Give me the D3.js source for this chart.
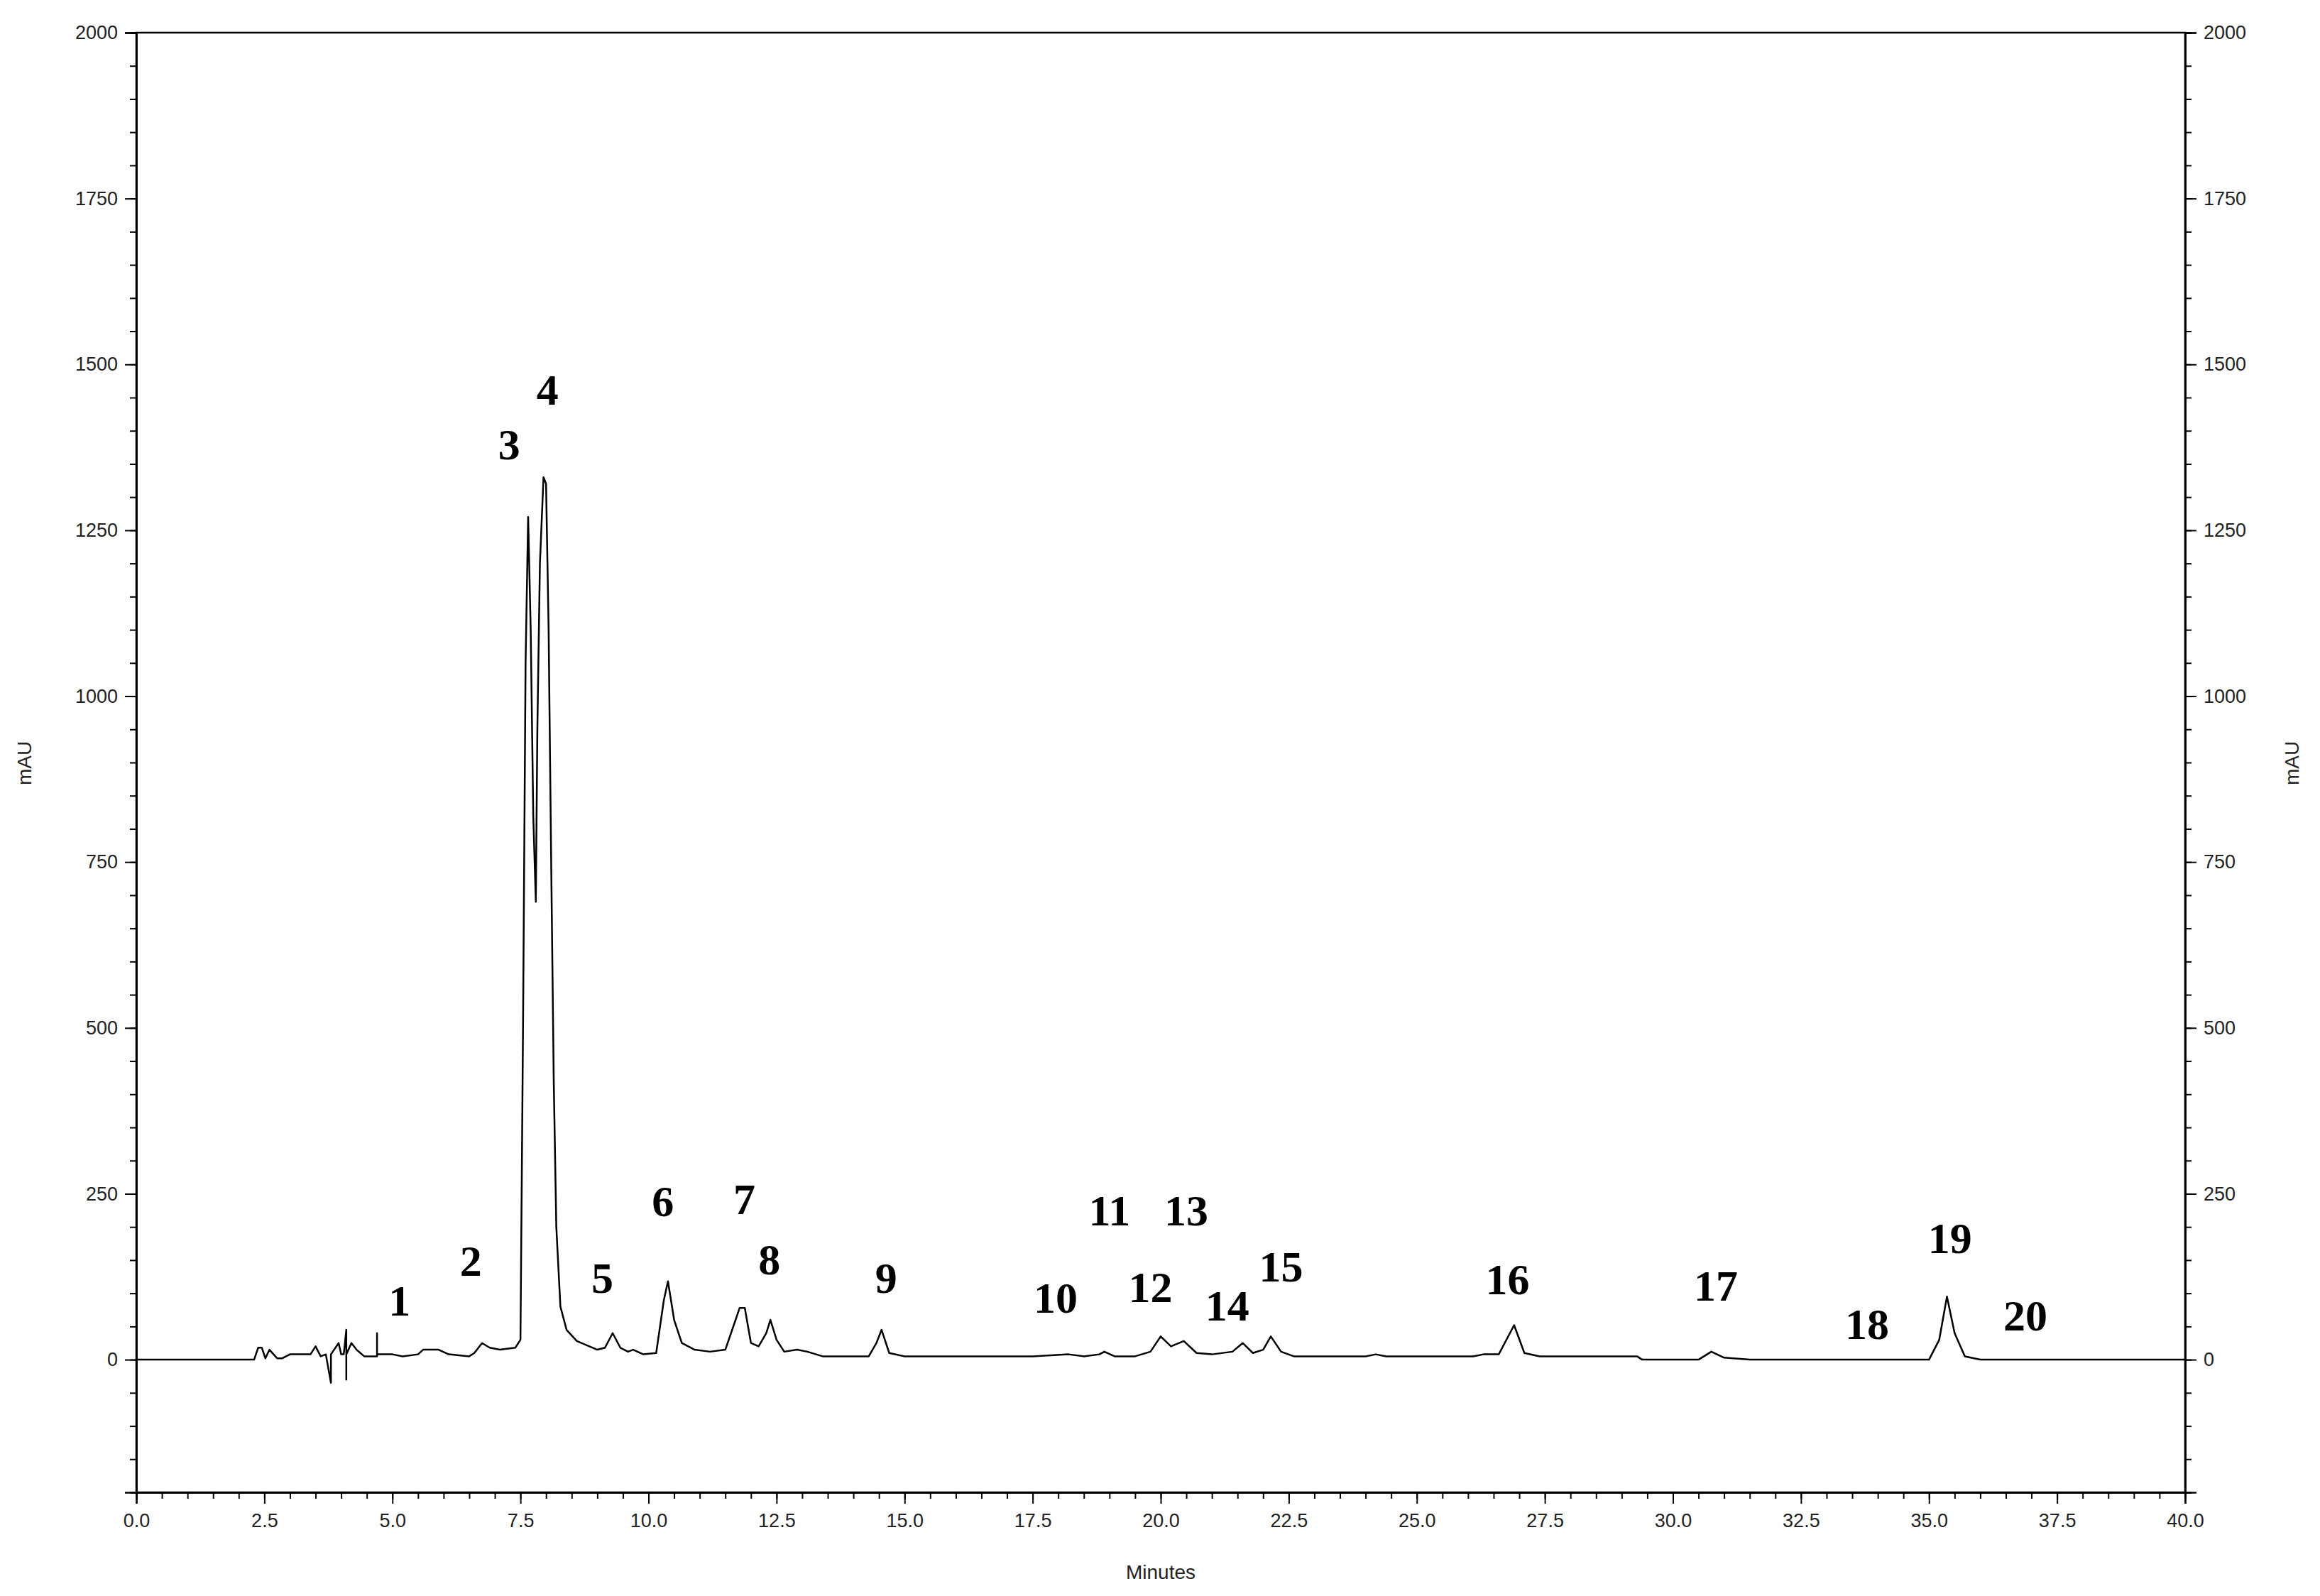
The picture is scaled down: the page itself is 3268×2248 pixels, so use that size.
<!DOCTYPE html>
<html>
<head>
<meta charset="utf-8">
<script src="https://cdn.jsdelivr.net/npm/d3@7/dist/d3.min.js"></script>
<style>
  body { margin: 0; background: #fff; }
  .axis text, .title { font-family: "Liberation Sans Narrow", "Liberation Sans", Arial, sans-serif; }
  .peak { font-family: "Liberation Serif", "Times New Roman", serif; font-weight: bold; }
</style>
</head>
<body>
<svg id="chart" width="3268" height="2248"></svg>
<script>
// chromatogram trace (minutes, mAU)
const times = [0, 2.3, 2.38, 2.45, 2.52, 2.6, 2.68, 2.75, 2.85, 3.0, 3.2, 3.4, 3.5, 3.6, 3.7, 3.8, 3.8, 3.8, 3.95, 4.0, 4.05, 4.1, 4.1, 4.1, 4.2, 4.3, 4.45, 4.7, 4.7, 4.7, 5.0, 5.2, 5.5, 5.6, 5.9, 6.1, 6.5, 6.6, 6.75, 6.9, 7.1, 7.4, 7.5, 7.55, 7.6, 7.65, 7.7, 7.75, 7.8, 7.83, 7.88, 7.95, 8.0, 8.05, 8.1, 8.15, 8.2, 8.28, 8.4, 8.6, 9.0, 9.15, 9.3, 9.45, 9.6, 9.7, 9.9, 10.15, 10.3, 10.38, 10.5, 10.65, 10.9, 11.2, 11.5, 11.7, 11.78, 11.88, 12.0, 12.15, 12.3, 12.38, 12.5, 12.65, 12.9, 13.1, 13.4, 14.3, 14.45, 14.55, 14.7, 15.0, 17.5, 18.2, 18.5, 18.8, 18.9, 19.1, 19.5, 19.8, 20.0, 20.2, 20.45, 20.7, 21.0, 21.4, 21.6, 21.8, 22.0, 22.15, 22.35, 22.6, 24.0, 24.2, 24.4, 26.1, 26.3, 26.6, 26.9, 27.1, 27.4, 29.3, 29.4, 30.5, 30.75, 31.0, 31.5, 33.0, 35.0, 35.2, 35.35, 35.5, 35.7, 36.0, 40.0];
const signal = [0, 0, 18, 18, 2, 15, 8, 2, 2, 8, 8, 8, 20, 5, 8, -35, 8, 8, 25, 8, 8, 45, -30, 8, 25, 15, 5, 5, 40, 8, 8, 5, 8, 15, 15, 8, 5, 10, 25, 18, 15, 18, 30, 500, 1050, 1270, 1100, 820, 690, 950, 1200, 1330, 1320, 1100, 750, 420, 200, 80, 45, 28, 15, 18, 40, 18, 12, 15, 8, 10, 90, 118, 60, 25, 15, 12, 15, 60, 78, 78, 25, 20, 40, 60, 30, 12, 15, 12, 5, 5, 25, 45, 10, 5, 5, 8, 5, 8, 12, 5, 5, 12, 35, 20, 28, 10, 8, 12, 25, 10, 15, 35, 12, 5, 5, 8, 5, 5, 8, 8, 52, 10, 5, 5, 0, 0, 12, 3, 0, 0, 0, 30, 95, 40, 5, 0, 0];

// peak annotations (label, minutes, mAU at label centre)
const peakLabels = ["1","2","3","4","5","6","7","8","9","10","11","12","13","14","15","16","17","18","19","20"];
const peakTimes  = [5.14, 6.53, 7.28, 8.03, 9.10, 10.28, 11.87, 12.36, 14.64, 17.95, 19.0, 19.8, 20.5, 21.3, 22.35, 26.77, 30.84, 33.79, 35.41, 36.88];
const peakYs     = [90, 150, 1380, 1463, 124, 240, 243, 152, 124, 94, 226, 110, 226, 82, 141, 122, 112, 54, 184, 67];

const xTicks = d3.range(0, 40.01, 2.5);
const yTicks = [0, 250, 500, 750, 1000, 1250, 1500, 1750, 2000];

const plotLeft = 192, plotRight = 3078, plotTop = 46, plotBottom = 2102;
const svg = d3.select("#chart");

const x = d3.scaleLinear().domain([0, 40]).range([plotLeft, plotRight]);
const y = d3.scaleLinear().domain([-200, 2000]).range([plotBottom, plotTop]);

// frame
svg.append("rect")
    .attr("x", plotLeft).attr("y", plotTop)
    .attr("width", plotRight - plotLeft).attr("height", plotBottom - plotTop)
    .attr("fill", "none").attr("stroke", "#000").attr("stroke-width", 2.5);

function styleAxis(g) {
    g.attr("class", "axis");
    g.select(".domain").attr("stroke-width", 2.5);
    g.selectAll(".tick line").attr("stroke-width", 2);
    g.selectAll("text").attr("font-size", 27).attr("fill", "#222");
}

// minor ticks
svg.append("g").attr("transform", `translate(0,${plotBottom})`)
    .call(d3.axisBottom(x).tickValues(d3.range(0, 40.01, 0.5)).tickSize(9).tickFormat(""))
    .call(styleAxis);
svg.append("g").attr("transform", `translate(${plotLeft},0)`)
    .call(d3.axisLeft(y).tickValues(d3.range(-200, 2001, 50)).tickSize(9).tickFormat(""))
    .call(styleAxis);
svg.append("g").attr("transform", `translate(${plotRight},0)`)
    .call(d3.axisRight(y).tickValues(d3.range(-200, 2001, 50)).tickSize(9).tickFormat(""))
    .call(styleAxis);

// major ticks
svg.append("g").attr("transform", `translate(0,${plotBottom})`)
    .call(d3.axisBottom(x).tickValues(xTicks).tickSize(16).tickPadding(14).tickFormat(d3.format(".1f")))
    .call(styleAxis);
svg.append("g").attr("transform", `translate(${plotLeft},0)`)
    .call(d3.axisLeft(y).tickValues(yTicks).tickSize(16).tickPadding(10).tickFormat(d => d))
    .call(styleAxis);
svg.append("g").attr("transform", `translate(${plotRight},0)`)
    .call(d3.axisRight(y).tickValues(yTicks).tickSize(16).tickPadding(10).tickFormat(d => d))
    .call(styleAxis);

// axis titles
svg.append("text").attr("class", "title").attr("x", (plotLeft + plotRight) / 2).attr("y", 2224)
    .attr("text-anchor", "middle").attr("font-size", 28).attr("fill", "#222").text("Minutes");
svg.append("text").attr("class", "title").attr("transform", "translate(44,1075) rotate(-90)")
    .attr("text-anchor", "middle").attr("font-size", 28).attr("fill", "#222").text("mAU");
svg.append("text").attr("class", "title").attr("transform", "translate(3238,1075) rotate(-90)")
    .attr("text-anchor", "middle").attr("font-size", 28).attr("fill", "#222").text("mAU");

// trace
const points = times.map((t, i) => [t, signal[i]]);
svg.append("path")
    .datum(points)
    .attr("fill", "none")
    .attr("stroke", "#000")
    .attr("stroke-width", 2.5)
    .attr("stroke-linejoin", "round")
    .attr("d", d3.line().x(d => x(d[0])).y(d => y(d[1])));

// peak numbers
svg.selectAll(".peak")
    .data(peakLabels)
    .join("text")
    .attr("class", "peak")
    .attr("x", (d, i) => x(peakTimes[i]))
    .attr("y", (d, i) => y(peakYs[i]))
    .attr("dy", "0.35em")
    .attr("text-anchor", "middle")
    .attr("font-size", 62)
    .text(d => d);
</script>
</body>
</html>
